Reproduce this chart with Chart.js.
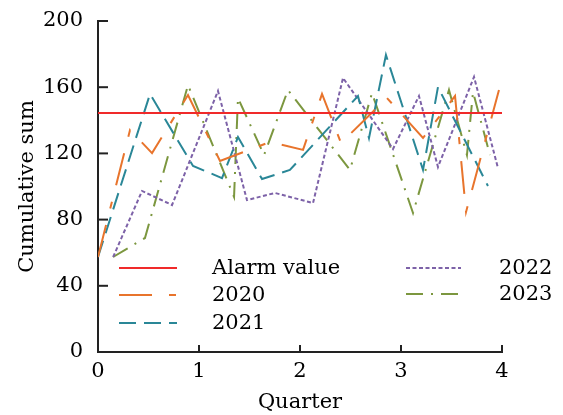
<!DOCTYPE html>
<html>
<head>
<meta charset="utf-8">
<script src="https://cdn.jsdelivr.net/npm/chart.js@4/dist/chart.umd.min.js"></script>
<style>
  html, body { margin: 0; padding: 0; background: #fff; }
  #wrap { width: 563px; height: 415px; position: relative; }
</style>
</head>
<body>
<div id="wrap"><canvas id="cusum"></canvas></div>
<script>
// data (x in quarters, y cumulative sum)
var alarmX = [0, 4];
var alarmY = [144.4, 144.4];

var x2020 = [0, 0.317, 0.535, 0.891, 1.208, 1.703, 2.03, 2.218, 2.406, 2.861, 3.218, 3.535, 3.644, 3.97];
var y2020 = [57.4, 134.1, 120.2, 155.3, 115.4, 126.9, 122.1, 155.9, 126.3, 153.5, 129.3, 154.7, 84.6, 158.3];

var x2021 = [0, 0.515, 0.941, 1.228, 1.386, 1.624, 1.90, 2.574, 2.683, 2.851, 3.218, 3.366, 3.861];
var y2021 = [57.4, 155.9, 112.4, 105.1, 129.9, 104.5, 110, 154.7, 129.3, 179.5, 110, 160.1, 100.3];

var x2022 = [0.15, 0.436, 0.733, 1.188, 1.475, 1.752, 2.129, 2.426, 2.921, 3.178, 3.366, 3.723, 3.96];
var y2022 = [57.4, 97.3, 88.8, 157.7, 91.8, 96.1, 90.0, 165.6, 122.7, 154.7, 111.8, 166.2, 111.2];

var x2023 = [0.149, 0.465, 0.891, 1.347, 1.386, 1.644, 1.881, 2.495, 2.713, 3.119, 3.475, 3.653, 3.713, 3.881];
var y2023 = [57.4, 68.9, 161.3, 93.7, 153.5, 119.0, 158.3, 110.0, 156.5, 84.0, 158.3, 119.0, 157.1, 119.0];

var xTicks = [0, 1, 2, 3, 4];
var yTicks = [0, 40, 80, 120, 160, 200];

function pts(xs, ys) {
    return xs.map(function (x, i) { return { x: x, y: ys[i] }; });
}

var serif = "'DejaVu Serif', serif";
var fontSize = 21;

// legend drawn inside the plot in two columns, like the original
var legendSlots = [
    { x: 119, y: 268 }, { x: 119, y: 295 }, { x: 119, y: 323 },
    { x: 406, y: 268 }, { x: 406, y: 294 }
];

var insideLegend = {
    id: 'insideLegend',
    afterDraw: function (chart) {
        var ctx = chart.ctx;
        ctx.save();
        chart.data.datasets.forEach(function (ds, i) {
            var s = legendSlots[i];
            var len = i < 3 ? 58 : 55;
            ctx.strokeStyle = ds.borderColor;
            ctx.lineWidth = ds.borderWidth;
            ctx.setLineDash(ds.borderDash || []);
            ctx.beginPath();
            ctx.moveTo(s.x, s.y);
            ctx.lineTo(s.x + len, s.y);
            ctx.stroke();
            ctx.setLineDash([]);
            ctx.fillStyle = '#000';
            ctx.font = fontSize + 'px ' + serif;
            ctx.textBaseline = 'middle';
            ctx.fillText(ds.label, s.x + 93, s.y + 1);
        });
        ctx.restore();
    }
};

// inward tick marks on both axes
var inwardTicks = {
    id: 'inwardTicks',
    afterDraw: function (chart) {
        var ctx = chart.ctx, xs = chart.scales.x, ys = chart.scales.y;
        var left = chart.chartArea.left, bottom = chart.chartArea.bottom;
        ctx.save();
        ctx.strokeStyle = '#222';
        ctx.lineWidth = 2;
        yTicks.forEach(function (v) {
            var p = ys.getPixelForValue(v);
            ctx.beginPath(); ctx.moveTo(left, p); ctx.lineTo(left + 10, p); ctx.stroke();
        });
        xTicks.forEach(function (v) {
            var p = xs.getPixelForValue(v);
            ctx.beginPath(); ctx.moveTo(p, bottom); ctx.lineTo(p, bottom - 7); ctx.stroke();
        });
        ctx.restore();
    }
};

var ctx = document.getElementById('cusum').getContext('2d');

var chart = new Chart(ctx, {
    type: 'line',
    data: {
        datasets: [
            { label: 'Alarm value', data: pts(alarmX, alarmY), borderColor: '#f02a2a', borderWidth: 2.2, borderDash: [] },
            { label: '2020', data: pts(x2020, y2020), borderColor: '#e8742c', borderWidth: 2, borderDash: [33, 17, 7, 17] },
            { label: '2021', data: pts(x2021, y2021), borderColor: '#2a8797', borderWidth: 2, borderDash: [17, 8] },
            { label: '2022', data: pts(x2022, y2022), borderColor: '#7d62a8', borderWidth: 2, borderDash: [4, 2.5] },
            { label: '2023', data: pts(x2023, y2023), borderColor: '#7c973f', borderWidth: 2, borderDash: [17, 8, 2, 8] }
        ]
    },
    options: {
        responsive: true,
        maintainAspectRatio: false,
        animation: false,
        elements: {
            point: { radius: 0 },
            line: { tension: 0, fill: false }
        },
        layout: { padding: { top: 21, right: 61, left: 15, bottom: 0 } },
        plugins: {
            legend: { display: false },
            tooltip: { enabled: false }
        },
        scales: {
            x: {
                type: 'linear',
                min: 0,
                max: 4,
                afterFit: function (scale) {
                    scale.height = 63;
                    scale.paddingLeft = 0;
                    scale.paddingRight = 0;
                },
                afterBuildTicks: function (scale) {
                    scale.ticks = xTicks.map(function (v) { return { value: v }; });
                },
                grid: { display: false, drawTicks: false },
                border: { display: true, color: '#222', width: 2 },
                ticks: { color: '#000', font: { family: serif, size: fontSize }, padding: 7, maxRotation: 0 },
                title: { display: true, text: 'Quarter', color: '#000', font: { family: serif, size: fontSize }, padding: { top: 0, bottom: 0 } }
            },
            y: {
                min: 0,
                max: 200,
                afterFit: function (scale) {
                    scale.width = 83;
                    scale.paddingTop = 0;
                    scale.paddingBottom = 0;
                },
                afterBuildTicks: function (scale) {
                    scale.ticks = yTicks.map(function (v) { return { value: v }; });
                },
                grid: { display: false, drawTicks: false },
                border: { display: true, color: '#222', width: 2 },
                ticks: { color: '#000', font: { family: serif, size: fontSize }, padding: 15 },
                title: { display: true, text: 'Cumulative sum', color: '#000', font: { family: serif, size: fontSize }, padding: { top: 0, bottom: 0 } }
            }
        }
    },
    plugins: [inwardTicks, insideLegend]
});
</script>
</body>
</html>
